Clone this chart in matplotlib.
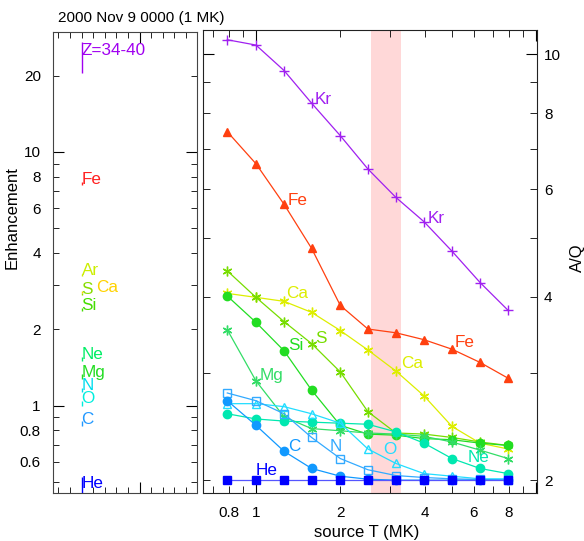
import matplotlib
matplotlib.use('Agg')
import matplotlib.pyplot as plt
from matplotlib.ticker import FixedLocator, FixedFormatter, NullFormatter

plt.rcParams['font.family'] = ['Liberation Sans', 'DejaVu Sans']

# source temperatures (MK)
temps = [0.79, 1.0, 1.26, 1.58, 2.0, 2.51, 3.16, 3.98, 5.01, 6.31, 7.94]

# A/Q vs T for each species
aq_kr = [10.56, 10.35, 9.40, 8.31, 7.35, 6.48, 5.82, 5.31, 4.75, 4.22, 3.80]
aq_fe = [7.46, 6.61, 5.67, 4.80, 3.87, 3.54, 3.49, 3.40, 3.28, 3.12, 2.94]
aq_ca = [4.05, 3.99, 3.93, 3.77, 3.52, 3.27, 3.02, 2.75, 2.45, 2.30, 2.25]
aq_s = [4.41, 3.99, 3.64, 3.35, 3.01, 2.59, 2.39, 2.38, 2.35, 2.31, 2.28]
aq_si = [4.01, 3.63, 3.26, 2.81, 2.46, 2.38, 2.37, 2.34, 2.33, 2.30, 2.28]
aq_mg = [3.53, 2.91, 2.54, 2.43, 2.41, 2.39, 2.38, 2.36, 2.31, 2.24, 2.17]
aq_ne = [2.57, 2.52, 2.50, 2.49, 2.48, 2.47, 2.40, 2.30, 2.17, 2.09, 2.05]
aq_o = [2.67, 2.67, 2.64, 2.57, 2.48, 2.25, 2.13, 2.05, 2.03, 2.01, 2.01]
aq_n = [2.78, 2.70, 2.57, 2.35, 2.17, 2.08, 2.035, 2.02, 2.01, 2.005, 2.0]
aq_c = [2.70, 2.46, 2.23, 2.09, 2.03, 2.007, 2.0, 2.0, 2.0, 2.0, 2.0]
aq_he = [2.0] * 11

# measured enhancements (left panel)
enh_names = ['Z=34-40', 'Fe', 'Ar', 'S', 'Ca', 'Si', 'Ne', 'Mg', 'N', 'O', 'C', 'He']
enh_vals = [24.1, 7.5, 3.27, 2.75, 2.80, 2.39, 1.53, 1.30, 1.15, 1.02, 0.85, 0.473]
enh_lo = [3.7, 0.1, 0.03, 0.03, 0.03, 0.03, 0.03, 0.03, 0.02, 0.02, 0.02, 0.03]
enh_hi = [3.0, 0.1, 0.03, 0.03, 0.03, 0.03, 0.03, 0.03, 0.02, 0.02, 0.02, 0.05]
enh_colors = ['#A000F0', '#FF2020', '#CCEE00', '#88DD00', '#FFD200', '#44DD00',
              '#00EE66', '#22DD22', '#00DDEE', '#00EEDD', '#2299FF', '#0000FF']

fig = plt.figure(figsize=(5.84, 5.41), dpi=100)

# ---------- left panel: enhancements ----------
axl = fig.add_axes([0.0913, 0.0893, 0.246, 0.8516])
axl.set_yscale('log')
axl.set_ylim(0.454, 29.7)
axl.set_xlim(-0.43, 11.95)
for name, v, lo, hi, c in zip(enh_names, enh_vals, enh_lo, enh_hi, enh_colors):
    xp = 2
    axl.errorbar([xp], [v], yerr=[[lo], [hi]], color=c, lw=1, capsize=0, fmt='none')
    xt = 3.3 if name == 'Ca' else xp
    axl.text(xt, v, name, color=c, fontsize=12.3, ha='left', va='baseline')

axl.yaxis.set_major_locator(FixedLocator([1, 10]))
axl.yaxis.set_minor_locator(FixedLocator([0.5, 0.6, 0.7, 0.8, 0.9, 2, 3, 4, 5, 6, 7, 8, 9, 20]))
axl.yaxis.set_major_formatter(FixedFormatter(['1', '10']))
axl.yaxis.set_minor_formatter(FixedFormatter(['', '0.6', '', '0.8', '', '2', '', '4', '', '6', '', '8', '', '20']))
axl.xaxis.set_major_locator(FixedLocator([7]))
axl.xaxis.set_minor_locator(FixedLocator(list(range(12))))
axl.xaxis.set_major_formatter(NullFormatter())
axl.tick_params(which='both', direction='in', top=True, right=True, labelsize=11, pad=9)
axl.tick_params(which='major', length=8)
axl.tick_params(which='minor', length=4)
for sp in axl.spines.values():
    sp.set_color('#444444')

# ---------- right panel: A/Q vs source T ----------
axr = fig.add_axes([0.3476, 0.0887, 0.572, 0.856])
axr.set_xscale('log')
axr.set_yscale('log')
axr.set_xlim(0.647, 10.08)
axr.set_ylim(1.905, 10.96)
axr.axvspan(2.57, 3.30, color='#FFD8D8', lw=0, zorder=0)

series = [
    (aq_kr, '#A020F0', '+', True),
    (aq_fe, '#FF4010', '^', True),
    (aq_ca, '#DDEE00', (6, 2, 0), True),
    (aq_s, '#77DD00', (6, 2, 0), True),
    (aq_si, '#22DD22', 'o', True),
    (aq_mg, '#33DD66', (6, 2, 0), True),
    (aq_ne, '#00E8B0', 'o', True),
    (aq_o, '#22DDFF', '^', False),
    (aq_n, '#33AAFF', 's', False),
    (aq_c, '#1199FF', 'o', True),
    (aq_he, '#0000FF', 's', True),
]
for vals, c, m, filled in series:
    axr.plot(temps, vals, color=c if c != '#0000FF' else '#5555FF', lw=0.9,
             marker=m, markersize=7 if m in ('+',) or isinstance(m, tuple) else 6,
             markerfacecolor=c if filled else 'none', markeredgecolor=c, markeredgewidth=1)

# curve labels (text positions in data units)
lab_text = ['Kr', 'Kr', 'Fe', 'Fe', 'Ca', 'Ca', 'S', 'Si', 'Mg', 'C', 'N', 'O', 'Ne', 'He']
lab_t = [1.625, 4.10, 1.30, 5.14, 1.28, 3.29, 1.625, 1.305, 1.027, 1.305, 1.83, 2.85, 5.69, 1.0]
lab_v = [8.29, 5.29, 5.66, 3.31, 3.98, 3.05, 3.36, 3.27, 2.92, 2.23, 2.23, 2.21, 2.14, 2.04]
lab_c = ['#A020F0', '#A020F0', '#FF4010', '#FF4010', '#DDEE00', '#DDEE00', '#77DD00',
         '#22DD22', '#33DD66', '#1199FF', '#33AAFF', '#22DDFF', '#00E8B0', '#0000FF']
for s, t, v, c in zip(lab_text, lab_t, lab_v, lab_c):
    axr.text(t, v, s, color=c, fontsize=12.3, ha='left', va='baseline')

axr.xaxis.set_major_locator(FixedLocator([1, 10]))
axr.xaxis.set_minor_locator(FixedLocator([0.7, 0.8, 0.9, 2, 3, 4, 5, 6, 7, 8, 9]))
axr.xaxis.set_major_formatter(FixedFormatter(['1', '']))
axr.xaxis.set_minor_formatter(FixedFormatter(['', '0.8', '', '2', '', '4', '', '6', '', '8', '']))
axr.yaxis.set_major_locator(FixedLocator([10]))
axr.yaxis.set_minor_locator(FixedLocator([2, 3, 4, 5, 6, 7, 8, 9]))
axr.yaxis.set_major_formatter(FixedFormatter(['10']))
axr.yaxis.set_minor_formatter(FixedFormatter(['2', '', '4', '', '6', '', '8', '']))
axr.tick_params(which='both', direction='in', top=True, right=True, left=True,
                labelleft=False, labelright=True, labelsize=11)
axr.tick_params(axis='x', which='both', pad=9)
axr.tick_params(axis='y', which='both', pad=5)
axr.tick_params(which='major', length=8)
axr.tick_params(which='minor', length=5)
for sp in axr.spines.values():
    sp.set_color('#222222')

fig.text(58 / 584, 1 - 18 / 541, '2000 Nov 9 0000 (1 MK)', fontsize=11, ha='left', va='center')
fig.text(12 / 584, 1 - 218 / 541, 'Enhancement', fontsize=12, rotation=90, ha='center', va='center')
fig.text(577 / 584, 1 - 258 / 541, 'A/Q', fontsize=12, rotation=90, ha='center', va='center')
fig.text(367 / 584, 1 - 532 / 541, 'source T (MK)', fontsize=12, ha='center', va='center')

fig.savefig('out.png', dpi=100)
